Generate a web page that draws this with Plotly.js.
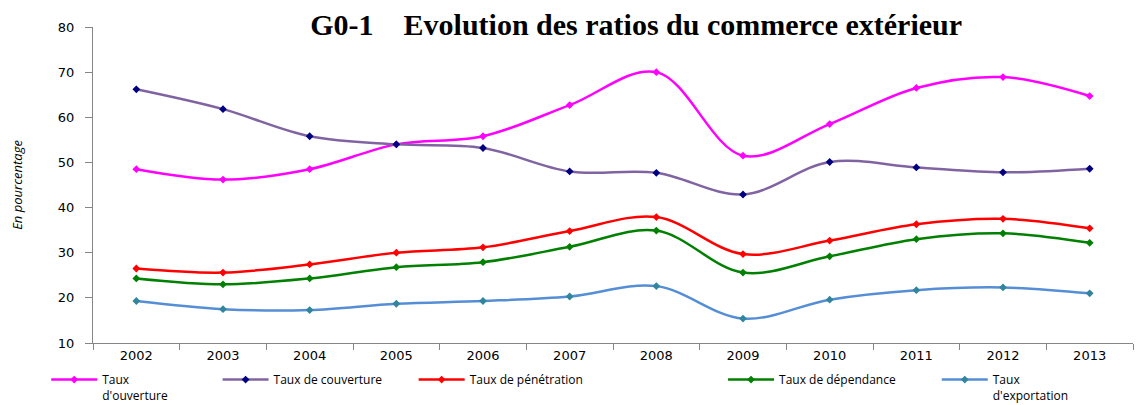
<!DOCTYPE html>
<html><head><meta charset="utf-8">
<script src="https://cdn.plot.ly/plotly-3.0.1.min.js"></script>
<style>html,body{margin:0;padding:0;background:#fff}#chart{width:1136px;height:405px}</style>
</head><body><div id="chart"></div>
<script>
const years = ['2002','2003','2004','2005','2006','2007','2008','2009','2010','2011','2012','2013'];
const tauxOuverture   = [48.5, 46.2, 48.5, 54.0, 55.8, 62.7, 70.0, 51.5, 58.5, 66.5, 68.9, 64.7];
const tauxCouverture  = [66.2, 61.8, 55.8, 54.0, 53.2, 48.0, 47.7, 42.9, 50.1, 48.9, 47.8, 48.6];
const tauxPenetration = [26.5, 25.6, 27.4, 30.0, 31.2, 34.8, 37.9, 29.7, 32.7, 36.3, 37.5, 35.4];
const tauxDependance  = [24.3, 23.0, 24.3, 26.8, 27.9, 31.3, 34.9, 25.6, 29.2, 33.0, 34.3, 32.2];
const tauxExportation = [19.3, 17.5, 17.3, 18.7, 19.3, 20.3, 22.6, 15.4, 19.6, 21.7, 22.3, 21.0];
const seriesNames = ["Taux<br>d'ouverture", 'Taux de couverture', 'Taux de pénétration', 'Taux de dépendance', "Taux<br>d'exportation"];

function tr(y, name, lc, mc, leg){
  return {x: years, y: y, name: name, type: 'scatter', mode: 'lines+markers',
    line: {color: lc, width: 2.5, shape: 'spline', smoothing: 1},
    marker: {symbol: 'diamond', size: 6, color: mc},
    legend: leg, cliponaxis: false};
}
const data = [
  tr(tauxOuverture, seriesNames[0], '#FF00FF', '#FF00FF', 'legend'),
  tr(tauxCouverture, seriesNames[1], '#8064A2', '#000080', 'legend2'),
  tr(tauxPenetration, seriesNames[2], '#FF0000', '#FF0000', 'legend3'),
  tr(tauxDependance, seriesNames[3], '#008000', '#008000', 'legend4'),
  tr(tauxExportation, seriesNames[4], '#558ED5', '#31859C', 'legend5')
];
const legBase = {orientation: 'h', yref: 'container', y: 0.098, yanchor: 'top', xanchor: 'left', valign: 'top',
  itemwidth: 46,
  font: {family: 'Open Sans, sans-serif', size: 12, color: '#000'}, bgcolor: 'rgba(0,0,0,0)', tracegroupgap: 0};
function lg(x){ return Object.assign({}, legBase, {x: x}); }
const layout = {
  width: 1136, height: 405,
  margin: {l: 93, r: 3, t: 27, b: 62},
  paper_bgcolor: '#fff', plot_bgcolor: '#fff',
  showlegend: true,
  title: {text: '<b>G0-1    Evolution des ratios du commerce extérieur</b>',
    font: {family: 'Liberation Serif, Times New Roman, serif', size: 30, color: '#000'},
    x: 0.56, xanchor: 'center', yref: 'container', y: 0.965, yanchor: 'top'},
  xaxis: {type: 'category', tickson: 'boundaries', ticks: 'outside', ticklen: 6, tickcolor: '#868686',
    showline: true, linecolor: '#868686', linewidth: 1, showgrid: false, zeroline: false,
    range: [-0.5, 11.5], fixedrange: true,
    tickfont: {family: 'DejaVu Sans, sans-serif', size: 13, color: '#000'}},
  yaxis: {range: [10, 80], dtick: 10, tick0: 10, ticks: 'outside', ticklen: 7, tickcolor: '#868686',
    showline: true, linecolor: '#868686', linewidth: 1, showgrid: false, zeroline: false,
    ticklabelstandoff: 8,
    tickfont: {family: 'DejaVu Sans, sans-serif', size: 13, color: '#000'},
    title: {text: '<i>En pourcentage</i>', standoff: 32, font: {family: 'Open Sans, sans-serif', size: 13, color: '#000'}}},
  legend: lg(-0.045),
  legend2: lg(0.1198),
  legend3: lg(0.3083),
  legend4: lg(0.6058),
  legend5: lg(0.8113)
};
Plotly.newPlot('chart', data, layout, {displayModeBar: false, staticPlot: true});
</script></body></html>
